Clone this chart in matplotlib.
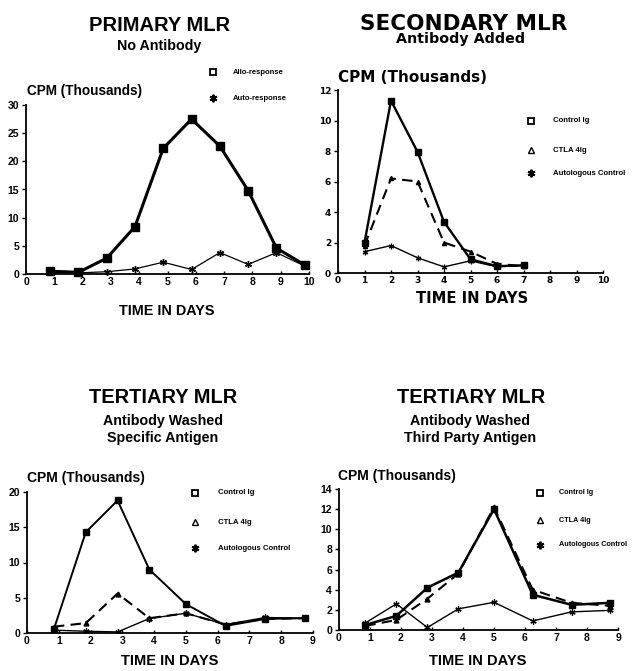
import matplotlib
matplotlib.use("Agg")
import matplotlib.pyplot as plt
from matplotlib.lines import Line2D

W, H = 632, 671
fig = plt.figure(figsize=(W / 100, H / 100), dpi=100)

# ---------------- data ----------------
p1_days = [0.85, 1.85, 2.85, 3.85, 4.85, 5.85, 6.85, 7.85, 8.85, 9.85]
p1_allo = [0.5, 0.3, 2.8, 8.4, 22.3, 27.5, 22.7, 14.8, 4.6, 1.6]
p1_auto = [0.4, 0.2, 0.4, 0.9, 2.1, 0.8, 3.8, 1.7, 3.8, 1.4]

p2_days = [1, 2, 3, 4, 5, 6, 7]
p2_control = [2.0, 11.3, 7.95, 3.35, 0.9, 0.45, 0.5]
p2_ctla = [1.8, 6.2, 6.0, 2.0, 1.4, 0.6, 0.45]
p2_auto = [1.4, 1.8, 1.0, 0.4, 0.8, 0.4, 0.5]

p3_days = [0.85, 1.85, 2.85, 3.85, 5.0, 6.25, 7.5, 8.75]
p3_control = [0.6, 14.3, 18.8, 9.0, 4.1, 1.0, 2.0, 2.1]
p3_ctla = [0.9, 1.4, 5.6, 2.1, 2.8, 1.2, 2.0, 2.1]
p3_auto = [0.4, 0.25, 0.15, 2.05, 2.8, 1.2, 2.2, 2.1]

p4_days = [0.85, 1.85, 2.85, 3.85, 5.0, 6.25, 7.5, 8.75]
p4_control = [0.5, 1.4, 4.2, 5.7, 12.0, 3.5, 2.5, 2.7]
p4_ctla = [0.4, 1.0, 3.1, 5.6, 12.2, 4.0, 2.7, 2.4]
p4_auto = [0.7, 2.6, 0.25, 2.1, 2.75, 0.9, 1.8, 1.95]

p1_legend = ["Allo-response", "Auto-response"]
legend3 = ["Control Ig", "CTLA 4Ig", "Autologous Control"]

ARIAL = "Liberation Sans"
WIDE = "DejaVu Sans"


def fx(px):
    return px / W


def fy(py):
    return 1 - py / H


def make_axes(x0, x1, ytop, ybot, xmax, ymax, yticks, font, tsize):
    ax = fig.add_axes([fx(x0), fy(ybot), (x1 - x0) / W, (ybot - ytop) / H])
    ax.set_xlim(0, xmax)
    ax.set_ylim(0, ymax)
    ax.set_xticks(range(0, xmax + 1))
    ax.set_yticks(yticks)
    for s in ["top", "right"]:
        ax.spines[s].set_visible(False)
    for s in ["left", "bottom"]:
        ax.spines[s].set_linewidth(1.3)
    ax.tick_params(axis="x", direction="in", length=2, width=1, pad=2)
    ax.tick_params(axis="y", direction="out", length=3, width=1, pad=2)
    for lab in ax.get_xticklabels() + ax.get_yticklabels():
        lab.set_fontfamily(font)
        lab.set_fontweight("bold")
        lab.set_fontsize(tsize)
    ax.patch.set_alpha(0)
    return ax


def ftext(x, y, s, size, family=ARIAL, ha="center", va="baseline", weight="bold"):
    fig.text(fx(x), fy(y), s, fontsize=size, family=family, ha=ha, va=va,
             fontweight=weight)


def legend_marker(x, y, kind):
    if kind == "square":
        m = Line2D([fx(x)], [fy(y)], marker="s", ms=4.5, mfc="white", mec="black",
                   mew=1.3, transform=fig.transFigure, linestyle="none")
    elif kind == "tri":
        m = Line2D([fx(x)], [fy(y)], marker="^", ms=4.5, mfc="white", mec="black",
                   mew=1.0, transform=fig.transFigure, linestyle="none")
    else:
        m = Line2D([fx(x)], [fy(y)], marker=(6, 2, 0), ms=5.5, mfc="black", mec="black",
                   mew=1.4, transform=fig.transFigure, linestyle="none")
    fig.add_artist(m)


# ---------------- Panel 1 ----------------
ax1 = make_axes(26, 309, 105, 274, 10, 30, [0, 5, 10, 15, 20, 25, 30], ARIAL, 7.5)
ax1.plot(p1_days, p1_allo, color="black", lw=2.2, marker="s", ms=5.5, mfc="black",
         clip_on=False)
ax1.plot(p1_days, p1_auto, color="black", lw=0.9, marker=(6, 2, 0), ms=5, mew=1.0,
         clip_on=False)
ftext(160, 31, "PRIMARY MLR", 14.5)
ftext(159, 50, "No Antibody", 10.3)
ftext(27, 95, "CPM (Thousands)", 9.8, ha="left")
ftext(167, 315, "TIME IN DAYS", 10.4)
legend_marker(213, 72, "square")
legend_marker(213, 98, "star")
ftext(233, 72, p1_legend[0], 5.5, ha="left", va="center")
ftext(233, 98, p1_legend[1], 5.5, ha="left", va="center")

# ---------------- Panel 2 ----------------
ax2 = make_axes(338, 603, 90, 273, 10, 12, [0, 2, 4, 6, 8, 10, 12], WIDE, 6.5)
ax2.plot(p2_days, p2_control, color="black", lw=1.7, marker="s", ms=4.5, mfc="black")
ax2.plot(p2_days, p2_ctla, color="black", lw=1.5, dashes=(5, 3), marker="^", ms=3,
         mfc="black")
ax2.plot(p2_days, p2_auto, color="black", lw=1.0, marker=(6, 2, 0), ms=4, mew=0.9)
ftext(464, 30, "SECONDARY MLR", 15.5, family=WIDE)
ftext(461, 43.5, "Antibody Added", 10.3, family=WIDE)
ftext(338, 82, "CPM (Thousands)", 11.0, family=WIDE, ha="left")
ftext(472, 303, "TIME IN DAYS", 10.6, family=WIDE)
for yy, kind, lab in zip([121, 150, 173], ["square", "tri", "star"], legend3):
    legend_marker(531, yy, kind)
    ftext(553, yy, lab, 5.6, ha="left", va="center")

# ---------------- Panel 3 ----------------
ax3 = make_axes(27, 313, 492, 633, 9, 20, [0, 5, 10, 15, 20], ARIAL, 7.5)
ax3.plot(p3_days, p3_control, color="black", lw=1.4, marker="s", ms=5, mfc="black")
ax3.plot(p3_days, p3_ctla, color="black", lw=1.5, dashes=(5, 3), marker="^", ms=3.5,
         mfc="black")
ax3.plot(p3_days, p3_auto, color="black", lw=1.0, marker=(6, 2, 0), ms=4.5, mew=0.9)
ftext(163, 403, "TERTIARY MLR", 14.4)
ftext(163, 425, "Antibody Washed", 10.3)
ftext(163, 442, "Specific Antigen", 10.3)
ftext(27, 482, "CPM (Thousands)", 10.0, ha="left")
ftext(170, 665, "TIME IN DAYS", 10.5)
for yy, kind, lab in zip([493, 522, 548], ["square", "tri", "star"], legend3):
    legend_marker(195, yy, kind)
    ftext(218, yy, lab, 5.6, ha="left", va="center")

# ---------------- Panel 4 ----------------
ax4 = make_axes(339, 618, 489, 630, 9, 14, [0, 2, 4, 6, 8, 10, 12, 14], ARIAL, 7.5)
ax4.plot(p4_days, p4_control, color="black", lw=1.8, marker="s", ms=5, mfc="black")
ax4.plot(p4_days, p4_ctla, color="black", lw=1.5, dashes=(5, 3), marker="^", ms=3.5,
         mfc="black")
ax4.plot(p4_days, p4_auto, color="black", lw=1.0, marker=(6, 2, 0), ms=4.5, mew=0.9)
ftext(471, 403, "TERTIARY MLR", 14.4)
ftext(470, 425, "Antibody Washed", 10.3)
ftext(470, 442, "Third Party Antigen", 10.3)
ftext(338, 480, "CPM (Thousands)", 10.0, ha="left")
ftext(478, 665, "TIME IN DAYS", 10.5)
for yy, kind, lab in zip([493, 520, 545], ["square", "tri", "star"], legend3):
    legend_marker(540, yy, kind)
    ftext(559, yy, lab, 5.2, ha="left", va="center")

fig.savefig("out.png", dpi=100, facecolor="white")
